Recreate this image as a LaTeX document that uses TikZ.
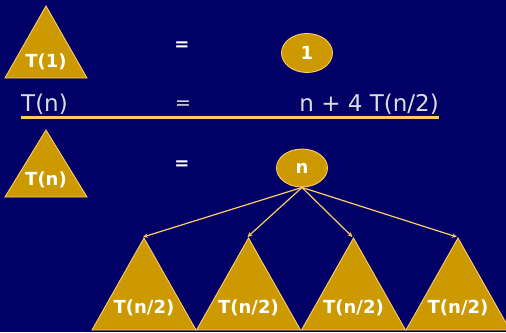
\documentclass[tikz,border=0pt]{standalone}
\usepackage{fontspec}
\setmainfont{DejaVu Sans}
\usetikzlibrary{arrows.meta,shapes.geometric}
\definecolor{bgblue}{HTML}{000066}
\definecolor{gold}{HTML}{CC9900}
\definecolor{lightgold}{HTML}{FFCC66}
\definecolor{ltgray}{HTML}{DDDDDD}
\tikzset{
  tri/.style={fill=gold,draw=lightgold,line width=0.9pt,line join=miter},
  lbl/.style={text=white,font=\bfseries\fontsize{18}{18}\selectfont,inner sep=0pt},
  eq/.style={text=ltgray,font=\fontsize{23}{23}\selectfont,inner sep=0pt},
  leaf/.style={ellipse,fill=gold,draw=lightgold,line width=0.9pt,minimum width=51pt,minimum height=39pt,inner sep=0pt,text=white,font=\bfseries\fontsize{18}{18}\selectfont},
  arr/.style={draw=lightgold,line width=1.2pt,-{Stealth[length=5pt,width=4.5pt]}}
}
\begin{document}
\begin{tikzpicture}[x=1pt,y=-1pt]
\fill[bgblue] (0,0) rectangle (506,332);
\useasboundingbox (0,0) rectangle (506,332);
\begin{scope}
\clip (0,0) rectangle (506,332);
% top row
\path[tri] (46,6) -- (87,78) -- (5,78) -- cycle;
\node[lbl] (t1) at (46,62) {T(1)};
\node[lbl] (eq1) at (182,46) {=};
\node[leaf] (one) at (307,53) {1};
% equation line
\node[eq,anchor=west] (tn) at (21,104) {T(n)};
\node[eq,font=\fontsize{19}{19}\selectfont] (eq2) at (183,105) {=};
\node[eq,anchor=east] (rhs) at (439,104) {n + 4 T(n/2)};
\coordinate (ul) at (21,117.5);
\coordinate (ur) at (439,117.5);
\draw[lightgold,line width=2.5pt] (ul) -- (ur);
% second row
\path[tri] (46,130) -- (87,197) -- (5,197) -- cycle;
\node[lbl] (t2) at (46,180) {T(n)};
\node[lbl] (eq3) at (182,165) {=};
\node[leaf,minimum width=51pt,minimum height=38pt] (n) at (302,168) {n};
% children
\foreach \i/\cx in {1/144,2/248.5,3/353.5,4/458}{
  \path[tri] (\cx,238) -- (\cx+52,330) -- (\cx-52,330) -- cycle;
  \coordinate (a\i) at (\cx-1,237);
  \node[lbl] (c\i) at (\cx,308) {T(n/2)};
}
\foreach \i in {1,...,4}{
  \draw[arr] (n.south) -- (a\i);
}
\end{scope}
\end{tikzpicture}
\end{document}
